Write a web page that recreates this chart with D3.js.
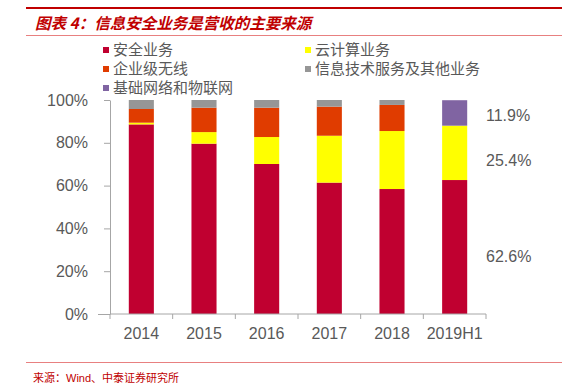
<!DOCTYPE html>
<html>
<head>
<meta charset="utf-8">
<script src="https://cdn.jsdelivr.net/npm/d3@7"></script>
<style>
body { margin: 0; background: #fff; }
text { font-family: "Liberation Sans", Arial, sans-serif; }
.cjk { font-family: "Noto Sans CJK SC", sans-serif; }
</style>
</head>
<body>
<script>
var years = ["2014", "2015", "2016", "2017", "2018", "2019H1"];
var seriesNames = ["安全业务", "云计算业务", "企业级无线", "信息技术服务及其他业务", "基础网络和物联网"];
var security = [88.6, 79.6, 70.1, 61.4, 58.4, 62.6];
var cloud = [0.8, 5.4, 12.6, 21.9, 27.1, 25.4];
var wireless = [6.4, 11.4, 13.7, 13.6, 12.2, 0];
var itOther = [4.2, 3.6, 3.6, 3.1, 2.3, 0];
var network = [0, 0, 0, 0, 0, 11.9];
var yTicks = [0, 20, 40, 60, 80, 100];
var seriesColors = ["#C00030", "#FFFF00", "#E03C00", "#969696", "#8064A2"];

function drawChart(){
	var svg = d3.select("body").append("svg").attr("width", 562).attr("height", 385);

	// header and footer rules
	svg.append("rect").attr("x", 26).attr("y", 7).attr("width", 536).attr("height", 2).style("fill", "#C00000");
	svg.append("rect").attr("x", 26).attr("y", 35).attr("width", 536).attr("height", 1).style("fill", "#E88080");
	svg.append("rect").attr("x", 26).attr("y", 362).attr("width", 536).attr("height", 1).style("fill", "#E88080");

	svg.append("text").attr("class", "cjk").attr("x", 35).attr("y", 29)
	.style("font-size", "15.5px").style("font-style", "italic").style("font-weight", "bold")
	.style("fill", "#C00000").text("图表 4：信息安全业务是营收的主要来源");

	svg.append("text").attr("x", 33).attr("y", 382).style("font-size", "11px").style("fill", "#C00000")
	.html('<tspan class="cjk">来源：</tspan>Wind<tspan class="cjk">、中泰证券研究所</tspan>');

	// legend
	var legendPos = [[103, 50], [305, 50], [103, 69], [305, 69], [103, 88]];
	var legendOrder = [0, 1, 2, 3, 4];
	var legend = svg.selectAll("g.legend").data(legendOrder).enter().append("g").attr("class", "legend")
	.attr("transform", function(d, i){ return "translate(" + legendPos[i][0] + "," + legendPos[i][1] + ")"; });
	legend.append("rect").attr("x", 0).attr("y", -3).attr("width", 6).attr("height", 6)
	.style("fill", function(d){ return seriesColors[d]; });
	legend.append("text").attr("class", "cjk").attr("x", 10).attr("y", 0).attr("dy", "0.35em")
	.style("font-size", "15px").style("fill", "#595959").text(function(d){ return seriesNames[d]; });

	var x = d3.scaleBand().domain(years).range([110, 486]).paddingInner(0.6).paddingOuter(0.3);
	var y = d3.scaleLinear().domain([0, 100]).range([314, 100]);

	var table = years.map(function(yr, i){
		return { year: yr, s0: security[i], s1: cloud[i], s2: wireless[i], s3: itOther[i], s4: network[i] };
	});
	var stack = d3.stack().keys(["s0", "s1", "s2", "s3", "s4"]);
	var layers = stack(table);

	svg.selectAll("g.layer").data(layers).enter().append("g").attr("class", "layer")
	.style("fill", function(d, i){ return seriesColors[i]; })
	.selectAll("rect").data(function(d){ return d; }).enter().append("rect")
	.attr("x", function(d){ return x(d.data.year); })
	.attr("width", x.bandwidth())
	.attr("y", function(d){ return y(Math.min(d[1], 100)); })
	.attr("height", function(d){ return Math.max(0, y(d[0]) - y(Math.min(d[1], 100))); });

	// y axis
	var yAxis = svg.append("g").attr("transform", "translate(110,0)")
	.call(d3.axisLeft(y).tickValues(yTicks).tickFormat(function(d){ return d + "%"; }).tickSize(12).tickSizeOuter(0).tickPadding(10));
	yAxis.select(".domain").style("stroke", "#A6A6A6");
	yAxis.selectAll("line").style("stroke", "#A6A6A6").attr("x1", 0).attr("x2", -12);
	yAxis.selectAll("line").filter(function(d){ return d !== 0; }).attr("x2", -6);
	yAxis.selectAll("text").style("font-size", "16px").style("fill", "#595959");

	// x axis with boundary ticks
	var xAxis = svg.append("g").attr("transform", "translate(0,314)");
	xAxis.append("line").attr("x1", 110).attr("x2", 486).attr("y1", 0).attr("y2", 0).style("stroke", "#A6A6A6");
	var bounds = d3.range(years.length + 1).map(function(i){ return 110 + i * (376 / years.length); });
	xAxis.selectAll("line.tk").data(bounds).enter().append("line").attr("class", "tk")
	.attr("x1", function(d){ return d; }).attr("x2", function(d){ return d; })
	.attr("y1", 0).attr("y2", 5).style("stroke", "#A6A6A6");
	xAxis.selectAll("text").data(years).enter().append("text")
	.attr("x", function(d){ return x(d) + x.bandwidth() / 2; }).attr("y", 25)
	.attr("text-anchor", "middle").style("font-size", "16px").style("fill", "#595959").text(function(d){ return d; });

	// right-side labels for 2019H1 (text boxes sit a little below segment centres)
	var labels = [
		{ v: network[5], mid: security[5] + cloud[5] + network[5] / 2, off: 2 },
		{ v: cloud[5], mid: security[5] + cloud[5] / 2, off: 8 },
		{ v: security[5], mid: security[5] / 2, off: 9 }
	];
	svg.selectAll("text.rl").data(labels).enter().append("text").attr("class", "rl")
	.attr("x", 486).attr("y", function(d){ return y(d.mid) + d.off; }).attr("dy", "0.35em")
	.style("font-size", "16px").style("fill", "#595959")
	.text(function(d){ return d.v.toFixed(1) + "%"; });
}

drawChart();
</script>
</body>
</html>
